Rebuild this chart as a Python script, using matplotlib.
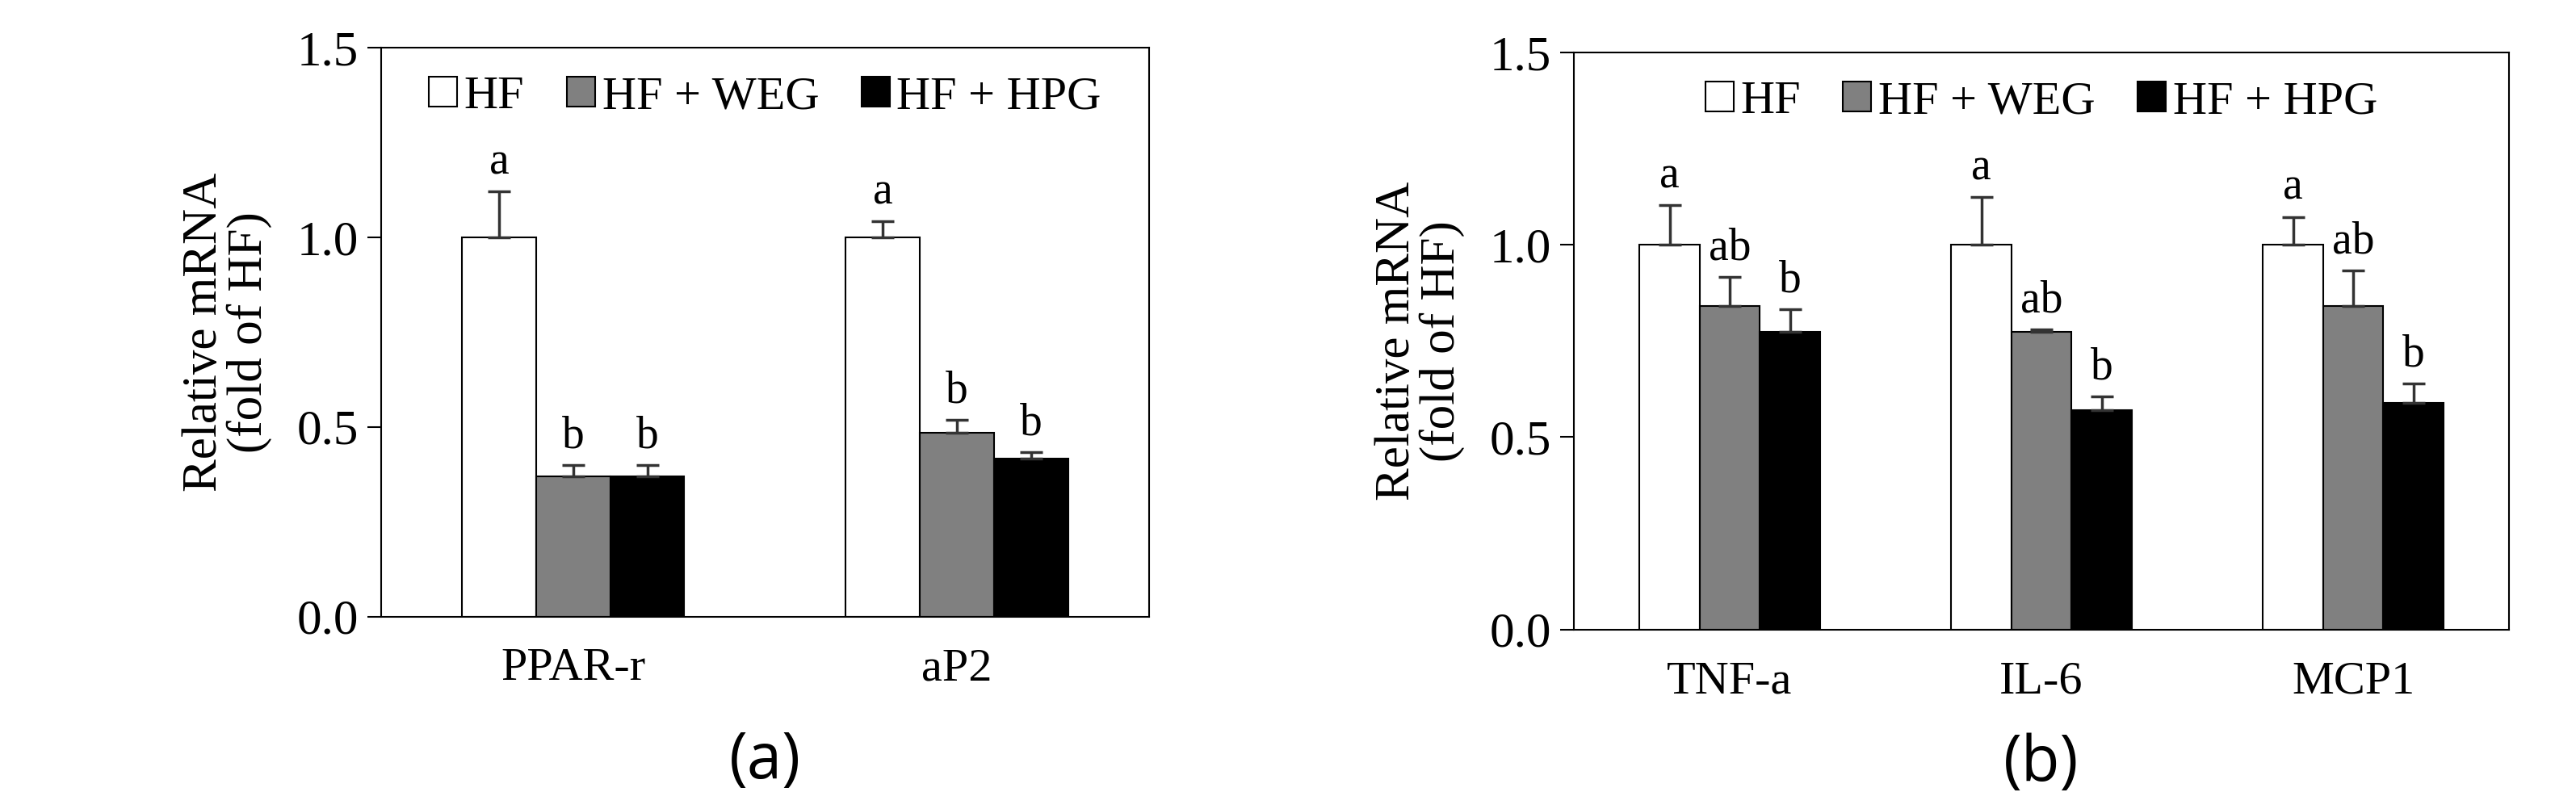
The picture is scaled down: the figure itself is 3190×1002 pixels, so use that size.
import numpy as np
import matplotlib.pyplot as plt

plt.rcParams["font.family"] = "Liberation Serif"

series = ["HF", "HF + WEG", "HF + HPG"]
colors = ["white", "#808080", "black"]

genes_a = ["PPAR-r", "aP2"]
mean_a = [[1.00, 1.00], [0.37, 0.484], [0.37, 0.416]]
err_a = [[0.122, 0.042], [0.03, 0.034], [0.03, 0.018]]
sig_a = [["a", "a"], ["b", "b"], ["b", "b"]]

genes_b = ["TNF-a", "IL-6", "MCP1"]
mean_b = [[1.00, 1.00, 1.00], [0.84, 0.773, 0.84], [0.773, 0.571, 0.59]]
err_b = [[0.103, 0.125, 0.073], [0.076, 0.007, 0.093], [0.06, 0.034, 0.049]]
sig_b = [["a", "a", "a"], ["ab", "ab", "ab"], ["b", "b", "b"]]

fig = plt.figure(figsize=(31.9, 10.02), dpi=100)
ax_a = fig.add_axes([0.148, 0.238, 0.298, 0.703])
ax_b = fig.add_axes([0.611, 0.222, 0.363, 0.713])

def draw(ax, genes, means, errs, sigs, tag, tag_y):
    x = np.arange(len(genes))
    w = 0.193
    for i in range(3):
        pos = x + (i - 1) * w
        ax.bar(pos, means[i], w, color=colors[i], edgecolor="black", linewidth=1.5, label=series[i])
        ax.errorbar(pos, means[i], yerr=[np.zeros(len(genes)), errs[i]], fmt="none",
                    ecolor="#333333", elinewidth=2.5, capsize=10, capthick=2.5)
        for p, m, e, s in zip(pos, means[i], errs[i], sigs[i]):
            ax.text(p, m + e + 0.02, s, ha="center", va="bottom", fontsize=40)
    ax.set_xlim(-0.5, len(genes) - 0.5)
    ax.set_ylim(0, 1.5)
    ax.set_yticks([0, 0.5, 1.0, 1.5])
    ax.set_yticklabels(["0.0", "0.5", "1.0", "1.5"])
    ax.set_xticks(x)
    ax.set_xticklabels(genes)
    ax.tick_params(axis="x", length=0, labelsize=42, pad=28)
    ax.tick_params(axis="y", direction="out", length=12, width=1.5, labelsize=44, pad=8)
    for sp in ax.spines.values():
        sp.set_linewidth(1.5)
    ax.set_ylabel("Relative mRNA\n(fold of HF)", fontsize=44, linespacing=1.0, labelpad=22)
    ax.legend(loc="upper center", ncol=3, frameon=False, fontsize=42, handlelength=0.6,
              handleheight=0.6, handletextpad=0.15, columnspacing=0.9, borderaxespad=0.2)
    ax.text(0.5, tag_y, "(" + tag + ")", transform=ax.transAxes, ha="center", va="center",
            fontsize=56, fontfamily="Open Sans")

draw(ax_a, genes_a, mean_a, err_a, sig_a, "a", -0.255)
draw(ax_b, genes_b, mean_b, err_b, sig_b, "b", -0.233)

fig.savefig("out.png", dpi=100)
